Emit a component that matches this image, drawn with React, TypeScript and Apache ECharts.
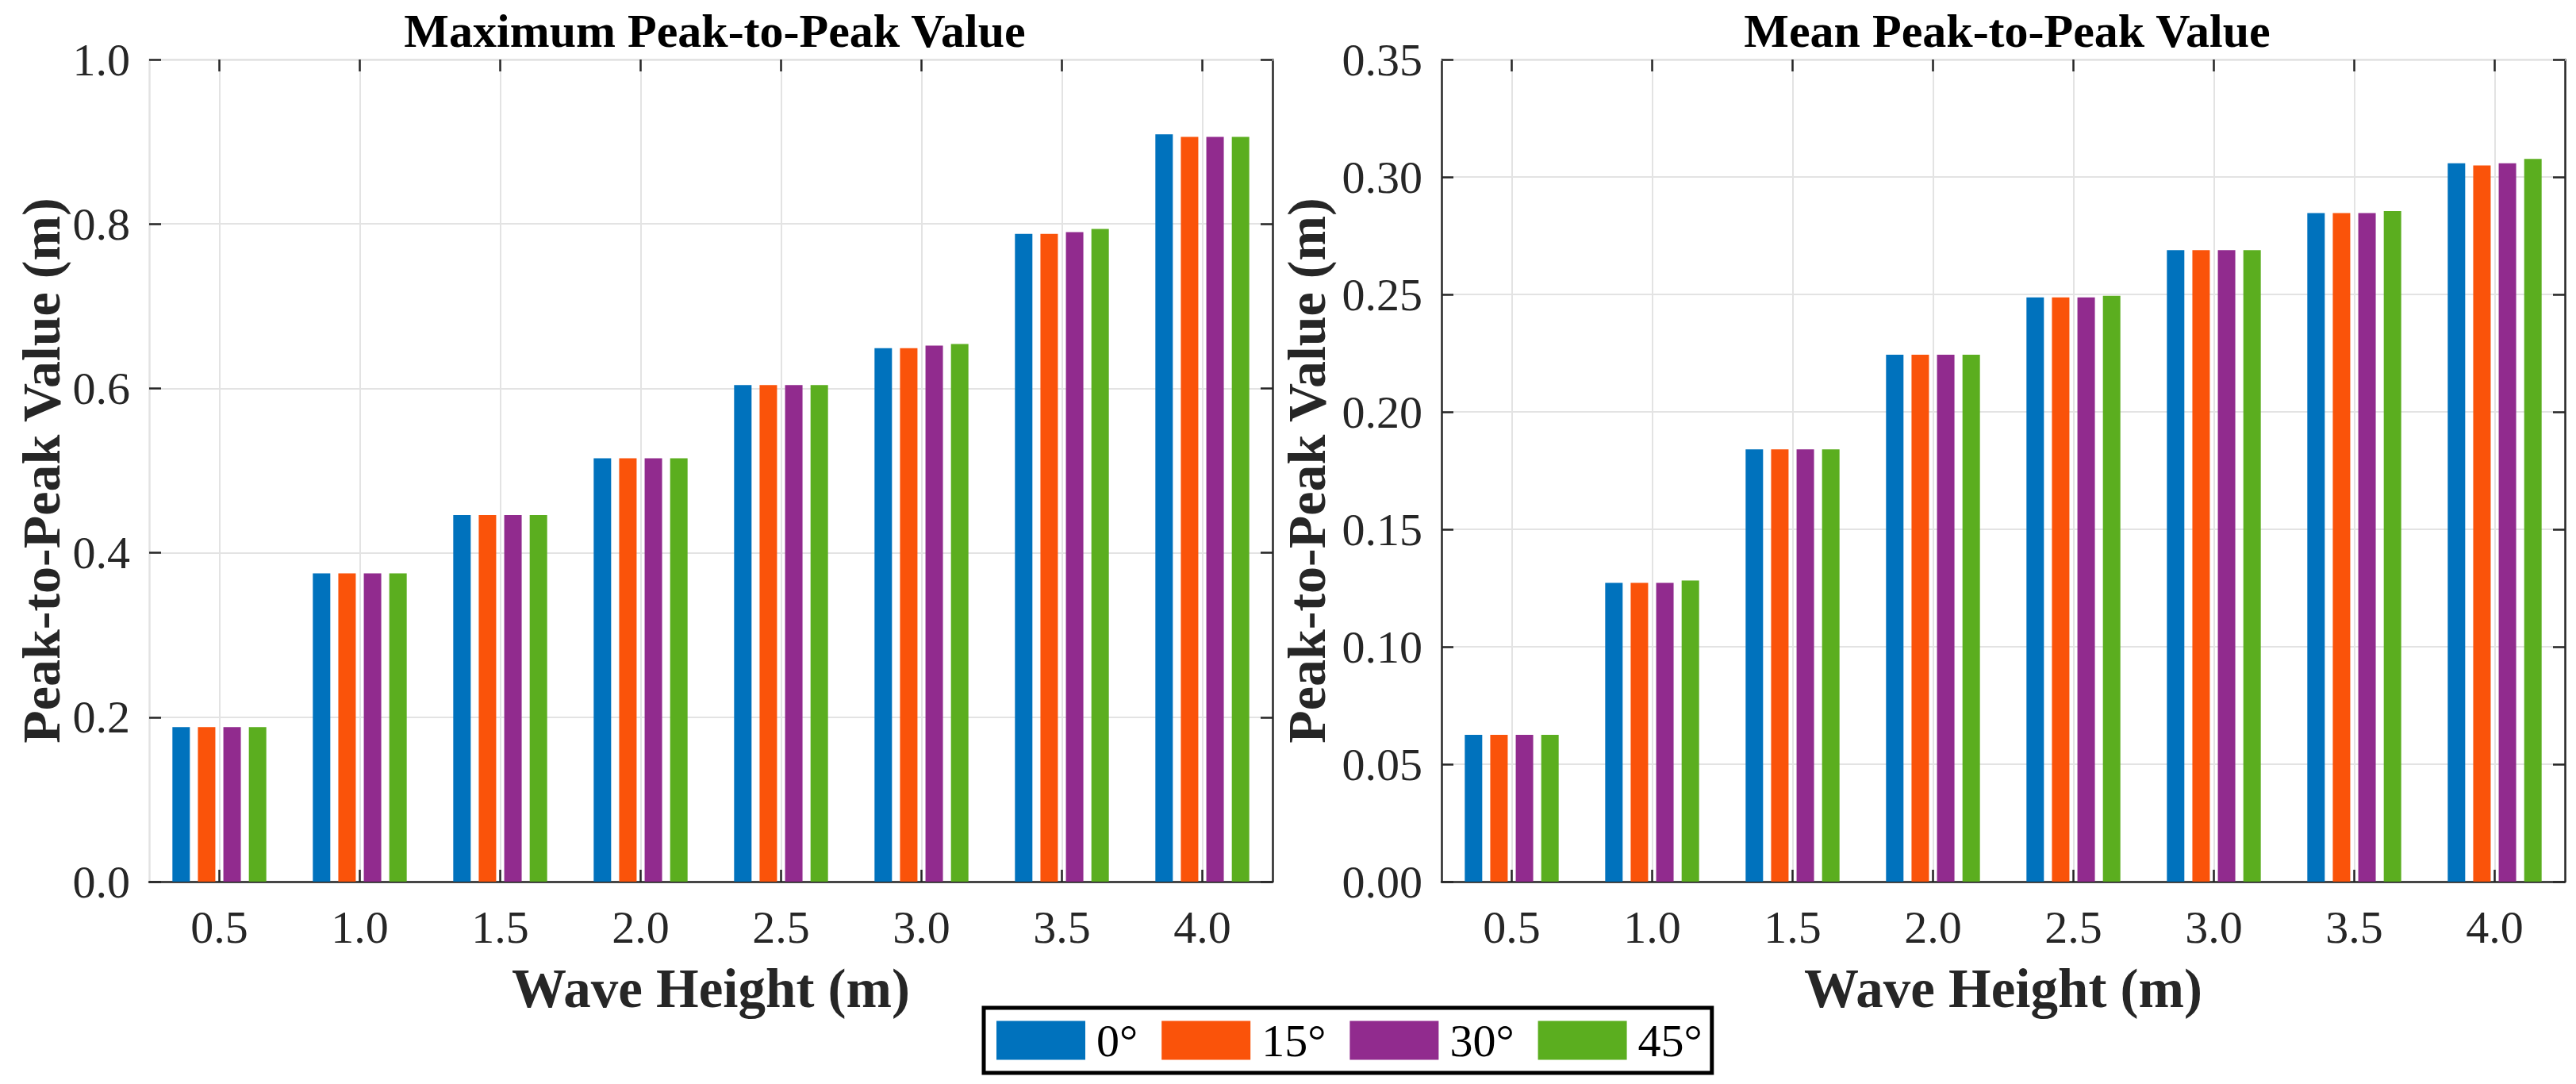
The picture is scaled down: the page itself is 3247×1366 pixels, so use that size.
import React, { useEffect, useRef } from "react";
import * as echarts from "echarts";

const categories = ["0.5", "1.0", "1.5", "2.0", "2.5", "3.0", "3.5", "4.0"];
const seriesNames = ["0°", "15°", "30°", "45°"];
const colors = ["#0072BD", "#FA530A", "#912B8E", "#5BAE1F"];

const maxDeg0 = [0.188, 0.375, 0.446, 0.515, 0.604, 0.649, 0.788, 0.909];
const maxDeg15 = [0.188, 0.375, 0.446, 0.515, 0.604, 0.649, 0.788, 0.906];
const maxDeg30 = [0.188, 0.375, 0.446, 0.515, 0.604, 0.652, 0.79, 0.906];
const maxDeg45 = [0.188, 0.375, 0.446, 0.515, 0.604, 0.654, 0.794, 0.906];

const meanDeg0 = [0.0625, 0.1272, 0.184, 0.2243, 0.2487, 0.2688, 0.2846, 0.3058];
const meanDeg15 = [0.0625, 0.1272, 0.184, 0.2243, 0.2487, 0.2688, 0.2846, 0.3049];
const meanDeg30 = [0.0625, 0.1272, 0.184, 0.2243, 0.2487, 0.2688, 0.2846, 0.3058];
const meanDeg45 = [0.0625, 0.1282, 0.184, 0.2243, 0.2494, 0.2688, 0.2855, 0.3077];

const maxAxis = { min: 0, max: 1.0, interval: 0.2, decimals: 1 };
const meanAxis = { min: 0, max: 0.35, interval: 0.05, decimals: 2 };

const titles = ["Maximum Peak-to-Peak Value", "Mean Peak-to-Peak Value"];
const xName = "Wave Height (m)";
const yName = "Peak-to-Peak Value (m)";

const FONT = "'Liberation Serif', 'Times New Roman', Times, serif";
const DARK = "#262626";
const LIGHT = "#e3e3e3";

const W = 3247;
const H = 1366;

export default function App() {
  const ref = useRef<HTMLDivElement>(null);

  useEffect(() => {
    if (!ref.current) return;
    const chart = echarts.init(ref.current, null, { renderer: "svg" });

    const grids = [
      { left: 188, right: W - 1604, top: 75, bottom: H - 1111 },
      { left: 1817, right: W - 3233, top: 75, bottom: H - 1111 },
    ];

    const tickStyle = { show: true, inside: true, length: 15, lineStyle: { color: DARK, width: 2.5 } };

    const xAxes: any[] = [];
    const yAxes: any[] = [];
    const axisCfg = [maxAxis, meanAxis];
    const nameGaps = [102, 136];
    const leftLineColors = [LIGHT, DARK];

    for (let g = 0; g < 2; g++) {
      xAxes.push({
        type: "category",
        gridIndex: g,
        data: categories,
        position: "bottom",
        boundaryGap: true,
        name: xName,
        nameLocation: "middle",
        nameGap: 100,
        nameTextStyle: { fontFamily: FONT, fontWeight: "bold", fontSize: 69, color: DARK },
        axisLine: { show: true, onZero: false, lineStyle: { color: DARK, width: 2.5 } },
        axisTick: { ...tickStyle, alignWithLabel: true },
        axisLabel: { fontFamily: FONT, fontSize: 58, color: DARK, margin: 28 },
        splitLine: { show: true, alignWithLabel: true, lineStyle: { color: LIGHT, width: 2 } },
      });
      xAxes.push({
        type: "category",
        gridIndex: g,
        data: categories,
        position: "top",
        boundaryGap: true,
        axisLine: { show: true, onZero: false, lineStyle: { color: LIGHT, width: 2.5 } },
        axisTick: { ...tickStyle, alignWithLabel: true },
        axisLabel: { show: false },
        splitLine: { show: false },
      });
      const a = axisCfg[g];
      yAxes.push({
        type: "value",
        gridIndex: g,
        position: "left",
        min: a.min,
        max: a.max,
        interval: a.interval,
        name: yName,
        nameLocation: "middle",
        nameGap: nameGaps[g],
        nameTextStyle: { fontFamily: FONT, fontWeight: "bold", fontSize: 68, color: DARK },
        axisLine: { show: true, onZero: false, lineStyle: { color: leftLineColors[g], width: 2.5 } },
        axisTick: tickStyle,
        axisLabel: {
          fontFamily: FONT,
          fontSize: 58,
          color: DARK,
          margin: 24,
          formatter: (v: number) => v.toFixed(a.decimals),
        },
        splitLine: { show: true, lineStyle: { color: LIGHT, width: 2 } },
      });
      yAxes.push({
        type: "value",
        gridIndex: g,
        position: "right",
        min: a.min,
        max: a.max,
        interval: a.interval,
        axisLine: { show: true, onZero: false, lineStyle: { color: DARK, width: 2.5 } },
        axisTick: tickStyle,
        axisLabel: { show: false },
        splitLine: { show: false },
      });
    }

    const maxData = [maxDeg0, maxDeg15, maxDeg30, maxDeg45];
    const meanData = [meanDeg0, meanDeg15, meanDeg30, meanDeg45];
    const series: any[] = [];
    [maxData, meanData].forEach((set, g) => {
      set.forEach((d, i) => {
        series.push({
          type: "bar",
          name: seriesNames[i],
          xAxisIndex: g * 2,
          yAxisIndex: g * 2,
          data: d,
          barWidth: 22,
          barGap: "46%",
          itemStyle: { color: colors[i] },
          emphasis: { disabled: true },
        });
      });
    });

    const centers = [(188 + 1604) / 2, (1817 + 3233) / 2];

    chart.setOption({
      animation: false,
      backgroundColor: "#ffffff",
      color: colors,
      title: titles.map((t, i) => ({
        text: t,
        left: centers[i],
        top: 4,
        textAlign: "center",
        textStyle: { fontFamily: FONT, fontWeight: "bold", fontSize: 60, color: "#000000" },
      })),
      legend: {
        data: seriesNames,
        left: 1240,
        top: 1270,
        orient: "horizontal",
        icon: "rect",
        itemWidth: 112,
        itemHeight: 49,
        itemGap: 30,
        padding: [12, 12, 12, 16],
        borderColor: "#000000",
        borderWidth: 5,
        backgroundColor: "#ffffff",
        textStyle: { fontFamily: FONT, fontSize: 58, color: "#000000", padding: [0, 0, 0, 9] },
        selectedMode: false,
      },
      grid: grids,
      xAxis: xAxes,
      yAxis: yAxes,
      series,
    });

    return () => chart.dispose();
  }, []);

  return (
    <div
      ref={ref}
      style={{ position: "absolute", left: 0, top: 0, width: W, height: H, background: "#fff" }}
    />
  );
}
